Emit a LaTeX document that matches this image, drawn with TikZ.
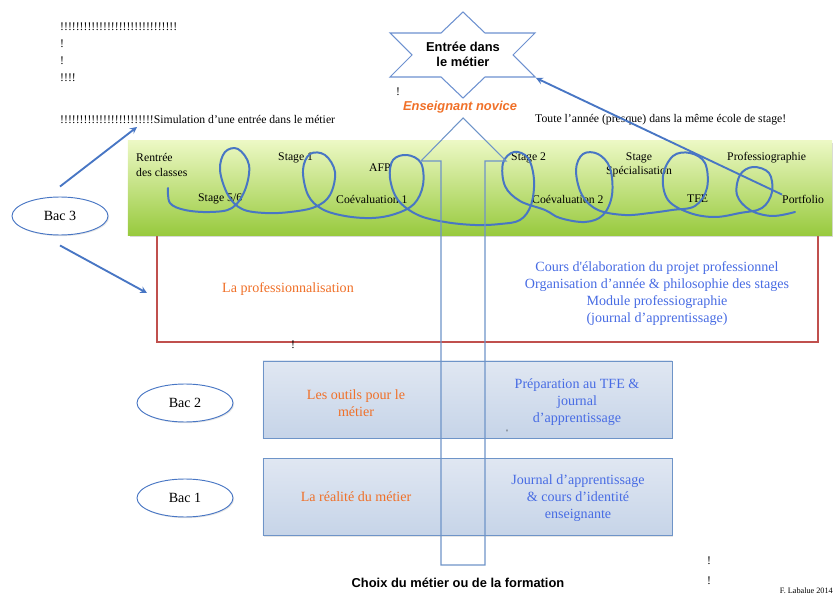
\documentclass[tikz,border=0pt]{standalone}
\usepackage{fontspec}
\setmainfont{Liberation Serif}
\setsansfont{Liberation Sans}
\usepackage{xcolor}
\usetikzlibrary{shapes}
\usetikzlibrary{positioning}
\usetikzlibrary{shadows}
\usetikzlibrary{arrows}

\definecolor{loopblue}{RGB}{72,118,196}
\definecolor{lineblue}{RGB}{110,148,200}
\definecolor{textorange}{RGB}{240,112,40}
\definecolor{textblue}{RGB}{72,108,228}
\definecolor{boxred}{RGB}{192,80,77}
\definecolor{greentop}{RGB}{236,248,196}
\definecolor{greenbottom}{RGB}{152,202,62}
\definecolor{steeltop}{RGB}{224,231,242}
\definecolor{steelbottom}{RGB}{198,212,232}

\begin{document}
\begin{tikzpicture}[x=0.03cm, y=-0.03cm,
        serif/.style={font=\fontsize{10}{12}\selectfont, inner sep=0pt},
        bigserif/.style={font=\fontsize{12}{14.5}\selectfont, inner sep=0pt, align=center},
        orangetxt/.style={bigserif, text=textorange},
        bluetxt/.style={bigserif, text=textblue},
        bac/.style={ellipse, draw=loopblue, fill=white, line width=0.8pt, minimum width=2.88cm, minimum height=1.14cm,
            font=\fontsize{12}{14}\selectfont, drop shadow={opacity=0.2, shadow xshift=1pt, shadow yshift=-1pt}},
        stepbox/.style={draw=lineblue, line width=0.8pt, top color=steeltop, bottom color=steelbottom,
            minimum width=12.27cm, minimum height=2.31cm, drop shadow={opacity=0.2, shadow xshift=1pt, shadow yshift=-1pt}},
        bluearrow/.style={-stealth, draw=loopblue, line width=1.6pt}]
        \useasboundingbox (0,0) rectangle (833,596);

        % boxes
        \node[draw=boxred, line width=0.9pt, fill=white, minimum width=19.83cm, minimum height=3.42cm,
            drop shadow={opacity=0.2, shadow xshift=1pt, shadow yshift=-1pt}] (prof_box) at (487.5,285) {};
        \node[draw=none, top color=greentop, bottom color=greenbottom, minimum width=21.12cm, minimum height=2.82cm,
            drop shadow={opacity=0.3, shadow xshift=1.5pt, shadow yshift=-1.5pt}] (green_bar) at (480,188) {};
        \node[stepbox] (tools_box) at (467.5,399.5) {};
        \node[stepbox] (reality_box) at (467.5,497) {};

        % labels in the green bar
        \node[serif, anchor=west, align=left] (rentree) at (136,165) {Rentrée\\des classes};
        \node[serif, anchor=west] (stage_one) at (278,158) {Stage 1};
        \node[serif, anchor=west] (stage_five) at (198,199) {Stage 5/6};
        \node[serif, anchor=west] (afp) at (369,168) {AFP};
        \node[serif, anchor=west] (coeval_one) at (336,199) {Coévaluation 1};
        \node[serif, anchor=west] (stage_two) at (511,158) {Stage 2};
        \node[serif, align=center] (stage_spec) at (639,165) {Stage\\Spécialisation};
        \node[serif, anchor=west] (professio) at (727,158) {Professiographie};
        \node[serif, anchor=west] (coeval_two) at (532,199) {Coévaluation 2};
        \node[serif, anchor=west] (tfe) at (687,199) {TFE};
        \node[serif, anchor=west] (portfolio) at (782,199) {Portfolio};

        % hand drawn loops
        \draw[loopblue, line width=1.7pt, line cap=round, line join=round] plot[smooth, tension=0.6] coordinates {
            (168,188) (170,203) (185,210) (210,212) (232,208) (245,190) (249,165) (238,149) (225,152) (220,170) (228,195) (242,209)
            (265,213) (290,212) (315,207) (330,195) (335,172) (325,155) (310,154) (303,170) (308,195) (322,209)
            (345,216) (372,218) (395,214) (414,204) (423,185) (421,163) (407,155) (393,160) (390,178) (398,200) (418,215)
            (445,222) (475,225) (500,224) (520,220) (531,205) (534,180) (528,158) (514,152) (503,163) (505,186) (520,201)
            (545,210) (560,218) (585,222) (603,215) (612,195) (610,168) (598,154) (583,154) (576,170) (582,195) (598,210)
            (625,215) (650,213) (672,210) (695,206) (707,188) (705,163) (690,153) (673,156) (663,176) (668,200) (690,213)
            (715,217) (740,213) (762,208) (772,192) (769,173) (753,167) (740,175) (737,195) (750,210) (772,216) (795,212)};

        % texts of the boxes
        \node[orangetxt] (professionnalisation) at (288,289) {La professionnalisation};
        \node[bluetxt] (cours_projet) at (657,294) {Cours d\textquotesingle élaboration du projet professionnel\\Organisation d’année \& philosophie des stages\\Module professiographie\\(journal d’apprentissage)};
        \node[orangetxt] (outils) at (356,403) {Les outils pour le\\métier};
        \node[bluetxt] (preparation_tfe) at (577,402) {Préparation au TFE \&\\journal\\d’apprentissage};
        \node[orangetxt] (realite) at (356,497) {La réalité du métier};
        \node[bluetxt] (journal) at (578,498) {Journal d’apprentissage\\\& cours d’identité\\enseignante};

        % big arrow
        \draw[lineblue, line width=0.9pt] (441,565) -- (441,161) -- (421,161) -- (463,118) -- (506,161) -- (485,161) -- (485,565) -- cycle;

        % star
        \draw[loopblue!80, line width=0.9pt, fill=white] (463,12) -- (485,33) -- (535,33) -- (513,55) -- (535,77) -- (485,77)
            -- (463,98) -- (441,77) -- (390,77) -- (412,55) -- (390,33) -- (441,33) -- cycle;
        \node[align=center, font=\sffamily\bfseries\fontsize{11}{13}\selectfont, inner sep=0pt] (entree_metier) at (463,54) {Entrée dans\\le métier};
        \coordinate (star_point) at (536,78);
        \node[font=\sffamily\bfseries\itshape\fontsize{11}{13}\selectfont, text=textorange, inner sep=0pt] (novice) at (460,107) {Enseignant novice};

        % loose texts
        \node[serif, anchor=west, align=left, font=\fontsize{10}{14.5}\selectfont] (marks) at (60,52)
            {!!!!!!!!!!!!!!!!!!!!!!!!!!!!!!\\!\\!\\!!!!};
        \node[serif, anchor=west] (simulation) at (60,120) {!!!!!!!!!!!!!!!!!!!!!!!!Simulation d’une entrée dans le métier};
        \node[serif, anchor=west] (toute_annee) at (535,120) {Toute l’année (presque) dans la même école de stage!};
        \node[serif] (mark_star) at (398,92) {!};
        \node[serif] (mark_prof) at (293,345) {!};
        \node[serif, font=\fontsize{7}{8}\selectfont] (mark_tools) at (507,433) {\textquotesingle};
        \node[serif, align=left, font=\fontsize{10}{17}\selectfont] (mark_bottom) at (709,571) {!\\!};
        \node[inner sep=0pt, anchor=east, font=\fontsize{7}{8}\selectfont] (signature) at (833,591) {F. Labalue 2014};
        \node[inner sep=0pt, font=\sffamily\bfseries\fontsize{11}{13}\selectfont] (choix) at (458,583) {Choix du métier ou de la formation};

        % years
        \node[bac] (bac3) at (60,216) {Bac 3};
        \node[bac] (bac2) at (185,403) {Bac 2};
        \node[bac] (bac1) at (185,498) {Bac 1};

        \coordinate (simu_tip) at (137,127);
        \coordinate (prof_tip) at (147,293);
        \draw[bluearrow] ([yshift=0.3cm]bac3.north) -- (simu_tip);
        \draw[bluearrow] ([yshift=-0.3cm]bac3.south) -- (prof_tip);
        \draw[bluearrow] (portfolio.north west) -- (star_point);
    \end{tikzpicture}
\end{document}
